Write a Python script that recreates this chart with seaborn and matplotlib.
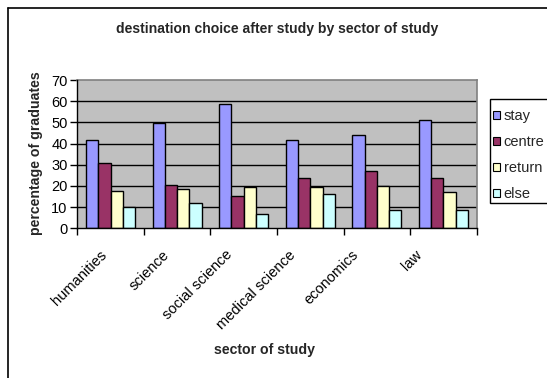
import numpy as np
import pandas as pd
import matplotlib
matplotlib.use("Agg")
import matplotlib.pyplot as plt
from matplotlib.patches import Rectangle, Patch
from matplotlib.lines import Line2D
import seaborn as sns

sectors = ["humanities", "science", "social science", "medical science", "economics", "law"]
choices = ["stay", "centre", "return", "else"]
stay = [41.6, 49.5, 58.6, 41.6, 44.2, 50.9]
centre = [31.0, 20.4, 15.2, 23.9, 27.2, 23.9]
ret = [17.7, 18.5, 19.3, 19.3, 20.0, 17.3]
other = [9.9, 11.9, 6.7, 16.0, 8.6, 8.6]
colors = ["#9999FF", "#993366", "#FFFFCC", "#CCFFFF"]
yticks = [0, 10, 20, 30, 40, 50, 60, 70]

df = pd.DataFrame({
    "sector": sectors * 4,
    "choice": [c for c in choices for _ in sectors],
    "value": stay + centre + ret + other,
})

sns.set_theme(style="white")
plt.rcParams["font.family"] = ["Liberation Sans", "DejaVu Sans"]

W, H = 547, 378
fig = plt.figure(figsize=(W / 100, H / 100), dpi=100)
ax_left, ax_right, ax_top, ax_bottom = 77.3, 476.7, 80, 228.3
ax = fig.add_axes([ax_left / W, 1 - ax_bottom / H, (ax_right - ax_left) / W,
                   (ax_bottom - ax_top) / H])
ax.set_facecolor("#C0C0C0")

sns.barplot(data=df, x="sector", y="value", hue="choice", order=sectors,
            hue_order=choices, palette=colors, width=0.74, ax=ax,
            edgecolor="black", linewidth=1.0, saturation=1, legend=False, zorder=3)

ax.set_ylim(0, 70)
ax.set_xlim(-0.5, len(sectors) - 0.5)
ax.set_yticks(yticks)
ax.set_yticklabels([str(v) for v in yticks], fontsize=10.5, color="black")
for v in yticks[1:-1]:
    ax.axhline(v, color="black", linewidth=1.0, zorder=1)

# category boundary ticks below; rotated labels creep slightly leftward
px_per_cat = (ax_right - ax_left) / len(sectors)
label_pos = [i - (11 + 3.6 * i) / px_per_cat for i in range(len(sectors))]
ax.set_xticks(np.arange(-0.5, len(sectors)), minor=False)
ax.set_xticklabels([])
ax.set_xticks(label_pos, minor=True)
ax.set_xticklabels(sectors, minor=True, rotation=45, ha="right",
                   rotation_mode="anchor", fontsize=10.5, color="black")
ax.tick_params(axis="x", which="major", direction="out", length=5, width=1,
               color="black", bottom=True)
ax.tick_params(axis="x", which="minor", length=0, pad=14)
ax.tick_params(axis="y", direction="out", length=5, width=1, color="black",
               left=True, pad=2)

for side in ["top", "right"]:
    ax.spines[side].set_color("#808080")
    ax.spines[side].set_linewidth(1.2)
for side in ["left", "bottom"]:
    ax.spines[side].set_color("black")
    ax.spines[side].set_linewidth(1.0)
    ax.spines[side].set_zorder(4)

ax.set_xlabel("")
ax.set_ylabel("")
fig.text(36.5 / W, 1 - 153 / H, "percentage of graduates", rotation=90,
         ha="center", va="center", fontsize=10.2, fontweight="bold")
fig.text(265 / W, 1 - 350 / H, "sector of study", ha="center", va="center",
         fontsize=10.2, fontweight="bold")
fig.text(277 / W, 1 - 29 / H, "destination choice after study by sector of study",
         ha="center", va="center", fontsize=10.1, fontweight="bold")

# outer chart frame (left and top edges visible)
fig.add_artist(Line2D([7.5 / W, 7.5 / W], [0, 1 - 7.5 / H], transform=fig.transFigure,
                      color="black", linewidth=1.2))
fig.add_artist(Line2D([7.5 / W, 1], [1 - 7.5 / H, 1 - 7.5 / H], transform=fig.transFigure,
                      color="black", linewidth=1.2))

# legend box
fig.add_artist(Rectangle((490 / W, 1 - 203 / H), 80 / W, (203 - 99) / H,
                         transform=fig.transFigure, facecolor="white",
                         edgecolor="black", linewidth=1.0))
handles = [Patch(facecolor=c, edgecolor="black", linewidth=0.8) for c in colors]
fig.legend(handles, choices, loc="upper left",
           bbox_to_anchor=(490 / W, 1 - 106 / H), frameon=False, fontsize=10.5,
           handlelength=0.5, handleheight=0.5, handletextpad=0.25,
           labelspacing=0.83, borderaxespad=0, borderpad=0.2)

fig.savefig("out.png", dpi=100)
